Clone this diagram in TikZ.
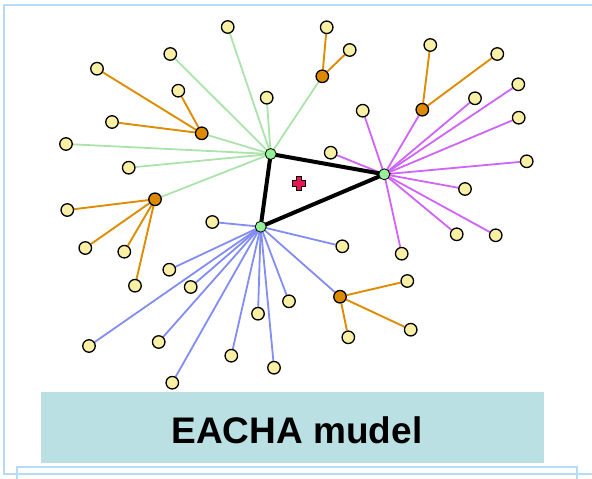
\documentclass[tikz,border=0pt]{standalone}
\usepackage{fontspec}
\setmainfont{Liberation Sans}
\pgfdeclarelayer{background}
\pgfsetlayers{background,main}
\definecolor{leafy}{RGB}{250,240,165}
\definecolor{orng}{RGB}{222,138,0}
\definecolor{hubg}{RGB}{150,238,150}
\definecolor{gline}{RGB}{170,228,170}
\definecolor{pline}{RGB}{208,100,250}
\definecolor{bline}{RGB}{130,140,245}
\definecolor{oline}{RGB}{222,140,0}
\definecolor{framec}{RGB}{180,220,250}
\definecolor{tealbox}{RGB}{186,224,227}
\definecolor{plusred}{RGB}{235,20,85}
\begin{document}
\begin{tikzpicture}[x=1pt,y=-1pt,
  leaf/.style={circle,draw=black,line width=1.3pt,fill=leafy,minimum size=12.5pt,inner sep=0pt},
  sub/.style={circle,draw=black,line width=1.3pt,fill=orng,minimum size=12.5pt,inner sep=0pt},
  hub/.style={circle,draw=black,line width=0.8pt,fill=hubg,minimum size=11pt,inner sep=0pt},
  gl/.style={draw=gline,line width=1.8pt},
  pl/.style={draw=pline,line width=1.8pt},
  bl/.style={draw=bline,line width=1.8pt},
  ol/.style={draw=oline,line width=1.9pt},
  tri/.style={draw=black,line width=4pt},
  framel/.style={draw=framec,line width=1.6pt}]
\useasboundingbox (0,0) rectangle (592,479);
% frame
\draw[framel] (592,5) -- (4,5) -- (4,474) -- (592,474);
\draw[framel] (17,479) -- (17,467) -- (577,467) -- (577,479);
% title box
\node[fill=tealbox,minimum width=503pt,minimum height=71pt,inner sep=0pt] (title) at (292.5,427.5) {};
\node[font=\fontsize{37}{40}\selectfont\bfseries] (titletext) at (297,430) {EACHA mudel};
% hubs
\node[hub] (A) at (270.7,154) {};
\node[hub] (B) at (384.3,174.3) {};
\node[hub] (C) at (260.7,226.7) {};
% hub A group
\node[leaf] (a1) at (227.7,27) {};
\node[leaf] (a2) at (170.3,54) {};
\node[leaf] (a3) at (266.7,97.7) {};
\node[sub] (ao1) at (201.7,133.3) {};
\node[leaf] (a4) at (66,144) {};
\node[leaf] (a5) at (128.7,167.7) {};
\node[sub] (ao2) at (155,199.3) {};
\node[sub] (ao3) at (322.3,76.3) {};
\node[leaf] (ao1a) at (97,68.7) {};
\node[leaf] (ao1b) at (178.3,90.7) {};
\node[leaf] (ao1c) at (112,122) {};
\node[leaf] (ao2a) at (67.3,210) {};
\node[leaf] (ao2b) at (85.3,248) {};
\node[leaf] (ao2c) at (124.3,251.7) {};
\node[leaf] (ao2d) at (135,285.7) {};
\node[leaf] (ao3a) at (326.7,27.3) {};
\node[leaf] (ao3b) at (349.7,50) {};
% hub B group
\node[leaf] (b1) at (362.7,110.7) {};
\node[sub] (bo1) at (422.3,109.7) {};
\node[leaf] (b2) at (475,98.3) {};
\node[leaf] (b3) at (518.3,84.3) {};
\node[leaf] (b4) at (518.7,117.7) {};
\node[leaf] (b5) at (526.7,161.3) {};
\node[leaf] (b6) at (465,189) {};
\node[leaf] (b7) at (456.7,234.3) {};
\node[leaf] (b8) at (495.7,235.3) {};
\node[leaf] (b9) at (330.7,152.7) {};
\node[leaf] (b10) at (401.7,253.7) {};
\node[leaf] (bo1a) at (430.3,45) {};
\node[leaf] (bo1b) at (497.3,54) {};
% hub C group
\node[leaf] (c1) at (212.3,222) {};
\node[leaf] (c2) at (342.3,246.3) {};
\node[sub] (co1) at (340,296.7) {};
\node[leaf] (c3) at (169.3,269.7) {};
\node[leaf] (c4) at (190.7,287) {};
\node[leaf] (c5) at (89,346) {};
\node[leaf] (c6) at (158.7,342) {};
\node[leaf] (c7) at (172.3,382.7) {};
\node[leaf] (c8) at (231.3,355.7) {};
\node[leaf] (c9) at (258,313.7) {};
\node[leaf] (c10) at (274,367.7) {};
\node[leaf] (c11) at (289,301.3) {};
\node[leaf] (co1a) at (407.3,281) {};
\node[leaf] (co1b) at (410.7,329.7) {};
\node[leaf] (co1c) at (348.3,337.3) {};
% plus marker
\draw[fill=plusred,draw=black,line width=0.7pt,shift={(299,183.3)}]
  (-2.6,-6.8) -- (2.6,-6.8) -- (2.6,-2.6) -- (6.8,-2.6) -- (6.8,2.6) -- (2.6,2.6)
  -- (2.6,6.8) -- (-2.6,6.8) -- (-2.6,2.6) -- (-6.8,2.6) -- (-6.8,-2.6) -- (-2.6,-2.6) -- cycle;
\begin{pgfonlayer}{background}
\foreach \n in {a1,a2,a3,ao1,a4,a5,ao2,ao3} \draw[gl] (A.center) -- (\n);
\foreach \n in {ao1a,ao1b,ao1c} \draw[ol] (ao1) -- (\n);
\foreach \n in {ao2a,ao2b,ao2c,ao2d} \draw[ol] (ao2) -- (\n);
\foreach \n in {ao3a,ao3b} \draw[ol] (ao3) -- (\n);
\foreach \n in {b1,bo1,b2,b3,b4,b5,b6,b7,b8,b9,b10} \draw[pl] (B.center) -- (\n);
\foreach \n in {bo1a,bo1b} \draw[ol] (bo1) -- (\n);
\foreach \n in {c1,c2,co1,c3,c4,c5,c6,c7,c8,c9,c10,c11} \draw[bl] (C.center) -- (\n);
\foreach \n in {co1a,co1b,co1c} \draw[ol] (co1) -- (\n);
\draw[tri] (A.center) -- (B.center) -- (C.center) -- cycle;
\end{pgfonlayer}
\end{tikzpicture}
\end{document}
